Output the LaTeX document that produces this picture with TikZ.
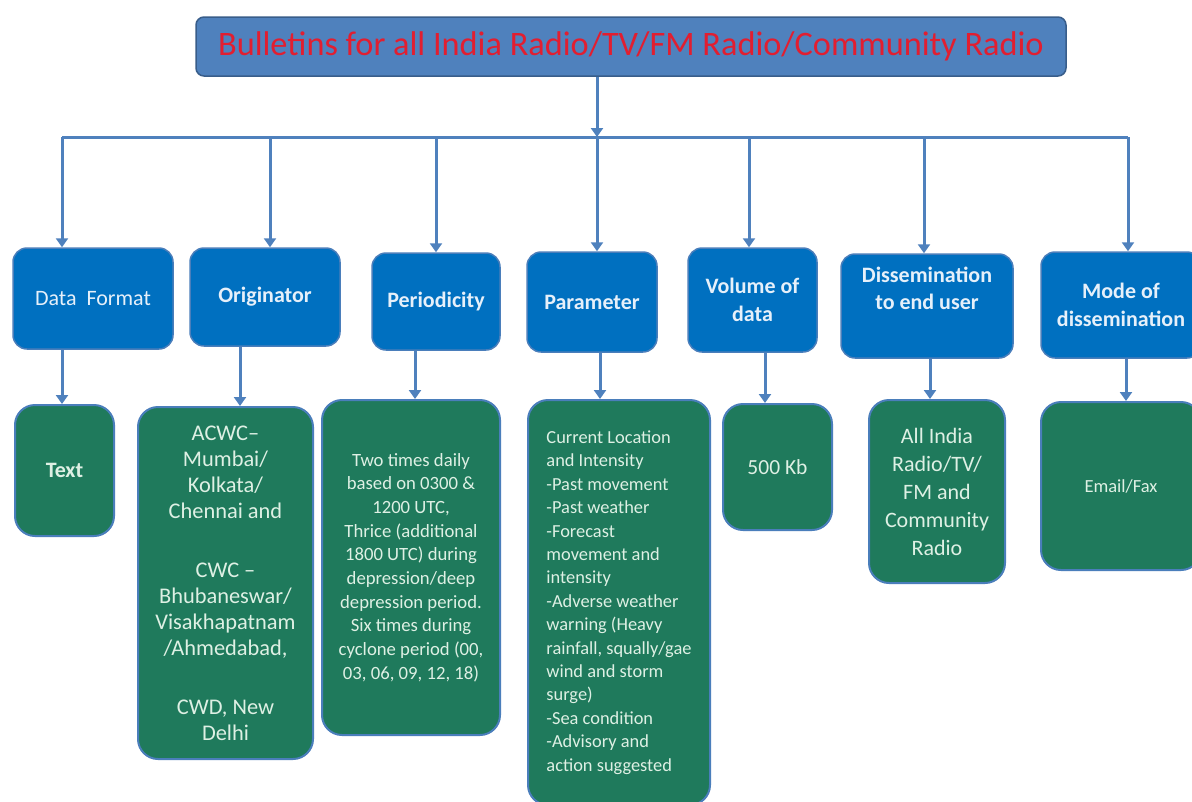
\documentclass[tikz,border=0pt]{standalone}
\usepackage{fontspec}
\setmainfont{Carlito}
\usetikzlibrary{arrows.meta}
\definecolor{topfill}{RGB}{79,129,189}
\definecolor{topline}{RGB}{56,93,138}
\definecolor{bluefill}{RGB}{0,112,192}
\definecolor{boxline}{RGB}{74,126,187}
\definecolor{greenfill}{RGB}{31,122,92}
\definecolor{titlered}{RGB}{226,30,48}
\definecolor{arrowcol}{RGB}{79,129,189}
\definecolor{bluetext}{RGB}{230,240,250}
\definecolor{greentext}{RGB}{222,240,228}
\tikzset{
  topbox/.style={draw=topline, line width=1.5pt, fill=topfill, rounded corners=8pt, inner sep=0pt},
  bluebox/.style={draw=boxline, line width=1.5pt, fill=bluefill, rounded corners=14pt, inner sep=0pt, align=center, text=bluetext, font=\fontsize{22}{27.5}\selectfont\bfseries},
  greenbox/.style={draw=boxline, line width=2pt, fill=greenfill, rounded corners=20pt, inner sep=0pt, align=center, text=greentext},
  conn/.style={draw=arrowcol, line width=3pt},
  arr/.style={conn, -{Triangle[width=12pt,length=9pt]}},
}
\begin{document}
\begin{tikzpicture}[x=1pt,y=-1pt]
\useasboundingbox (0,0) rectangle (1192,801);
\fill[white] (0,0) rectangle (1192,801);
% top
\node[topbox, minimum width=870pt, minimum height=59pt, text=titlered, font=\fontsize{34.3}{38}\selectfont] (top) at (631,46.5) {Bulletins for all India Radio/TV/FM Radio/Community Radio};
% blue boxes
\node[bluebox, minimum width=160pt, minimum height=101pt, font=\fontsize{22}{27}\selectfont] (b1) at (93,298.5) {Data\ \ Format};
\node[bluebox, minimum width=150pt, minimum height=98pt] (b2) at (265,297) {Originator};
\node[bluebox, minimum width=128pt, minimum height=97pt] (b3) at (436,301.5) {Periodicity};
\node[bluebox, minimum width=130pt, minimum height=100pt] (b4) at (592,302) {Parameter};
\node[bluebox, minimum width=129pt, minimum height=104pt] (b5) at (752.5,300) {Volume of\\data};
\node[bluebox, minimum width=172pt, minimum height=104pt] (b6) at (927,306) {Dissemination\\to end user\\\strut};
\node[bluebox, minimum width=160pt, minimum height=106pt] (b7) at (1121,305) {Mode of\\dissemination};
% green boxes
\node[greenbox, minimum width=99pt, minimum height=131pt, font=\fontsize{22}{26}\selectfont\bfseries] (g1) at (64.5,470.5) {Text};
\node[greenbox, minimum width=175pt, minimum height=352pt, font=\fontsize{22.4}{26}\selectfont] (g2) at (225.5,583) {ACWC--\\Mumbai/\\Kolkata/\\Chennai and\\[33pt]CWC --\\Bhubaneswar/\\Visakhapatnam\\/Ahmedabad,\\[33pt]CWD, New\\Delhi};
\node[greenbox, minimum width=178pt, minimum height=335pt, font=\fontsize{18.7}{23.7}\selectfont] (g3) at (411,567.5) {Two times daily\\based on 0300 \&\\1200 UTC,\\Thrice (additional\\1800 UTC) during\\depression/deep\\depression period.\\Six times during\\cyclone period (00,\\03, 06, 09, 12, 18)};
\node[greenbox, minimum width=182pt, minimum height=405pt, align=left, font=\fontsize{18.4}{23.4}\selectfont] (g4) at (619,602.5) {Current Location\\and Intensity\\-Past movement\\-Past weather\\-Forecast\\movement and\\intensity\\-Adverse weather\\warning (Heavy\\rainfall, squally/gae\\wind and storm\\surge)\\-Sea condition\\-Advisory and\\action suggested};
\node[greenbox, minimum width=109pt, minimum height=126pt, font=\fontsize{21.5}{26}\selectfont] (g5) at (777.5,467) {500 Kb};
\node[greenbox, minimum width=136pt, minimum height=183pt, font=\fontsize{22}{28}\selectfont] (g6) at (937,491.5) {All India\\Radio/TV/\\FM and\\Community\\Radio};
\node[greenbox, minimum width=160pt, minimum height=168pt, font=\fontsize{18.5}{22}\selectfont] (g7) at (1121,486) {Email/Fax};
% connectors
\coordinate (hl) at (62,137);
\coordinate (hr) at (1128,137);
\coordinate (hm) at (597,137);
\draw[arr] (top.south -| hm) -- (hm);
\draw[conn] (hl) -- (hr);
\draw[arr] (hl) -- (hl |- b1.north);
\draw[arr] (270,137) -- (270,0 |- b2.north);
\draw[arr] (436,137) -- (436,0 |- b3.north);
\draw[arr] (hm) -- (hm |- b4.north);
\draw[arr] (749,137) -- (749,0 |- b5.north);
\draw[arr] (924,137) -- (924,0 |- b6.north);
\draw[arr] (hr) -- (hr |- b7.north);
\draw[arr] (62,0 |- b1.south) -- (62,0 |- g1.north);
\draw[arr] (240,0 |- b2.south) -- (240,0 |- g2.north);
\draw[arr] (415,0 |- b3.south) -- (415,0 |- g3.north);
\draw[arr] (600,0 |- b4.south) -- (600,0 |- g4.north);
\draw[arr] (765,0 |- b5.south) -- (765,0 |- g5.north);
\draw[arr] (930,0 |- b6.south) -- (930,0 |- g6.north);
\draw[arr] (1126,0 |- b7.south) -- (1126,0 |- g7.north);
\end{tikzpicture}
\end{document}
